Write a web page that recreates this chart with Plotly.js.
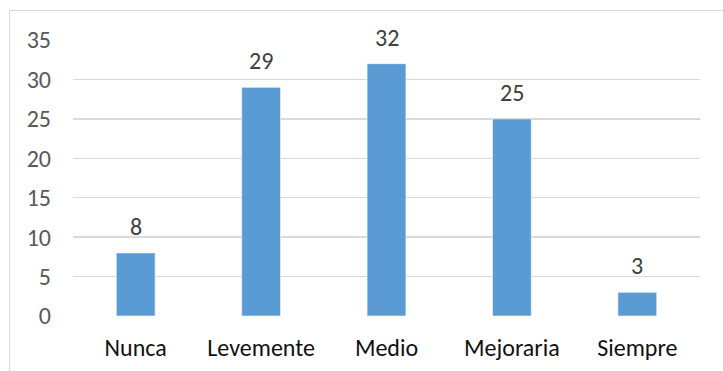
<!DOCTYPE html>
<html>
<head>
<meta charset="utf-8">
<script src="https://cdn.plot.ly/plotly-3.0.1.min.js"></script>
<style>
  html, body { margin: 0; padding: 0; background: #fff; }
  #wrap { position: relative; width: 723px; height: 371px; overflow: hidden; }
  #frame { position: absolute; left: 9px; top: 10px; width: 760px; height: 400px;
           border: 1px solid #d9d9d9; box-sizing: border-box; pointer-events: none; }
  #chart { position: absolute; left: 0; top: 0; width: 723px; height: 371px; }
</style>
</head>
<body>
<div id="wrap">
  <div id="chart"></div>
  <div id="frame"></div>
</div>
<script>
// Respuestas por categoría
const categorias = ['Nunca', 'Levemente', 'Medio', 'Mejoraria', 'Siempre'];
const valores = [8, 29, 32, 25, 3];
const yTicks = [0, 5, 10, 15, 20, 25, 30, 35];

const fuente = 'Carlito, Calibri, Lato, "Liberation Sans", Arial, sans-serif';

const trace = {
  type: 'bar',
  x: categorias,
  y: valores,
  text: valores.map(String),
  textposition: 'none',
  marker: { color: '#5B9BD5', line: { color: '#ffffff', width: 0.6 } },
  hoverinfo: 'skip'
};

// Etiquetas de valor sobre cada barra
const etiquetas = categorias.map((c, i) => ({
  x: c, y: valores[i], text: String(valores[i]),
  xref: 'x', yref: 'y', showarrow: false,
  yanchor: 'bottom', yshift: 10,
  font: { family: fuente, size: 24, color: '#404040' }
}));

const layout = {
  width: 723, height: 371,
  margin: { l: 73, r: 23, t: 40, b: 55 },
  paper_bgcolor: 'rgba(0,0,0,0)',
  plot_bgcolor: 'rgba(0,0,0,0)',
  bargap: 0.69,
  showlegend: false,
  font: { family: fuente },
  xaxis: {
    type: 'category',
    showgrid: false, zeroline: false, showline: false,
    ticks: '',
    tickfont: { family: fuente, size: 24, color: '#111111' },
    ticklabelstandoff: 15
  },
  yaxis: {
    range: [0, 35],
    tickvals: yTicks,
    ticktext: yTicks.map(String),
    showgrid: true, gridcolor: '#d9d9d9', gridwidth: 1.5,
    zeroline: false, showline: false, ticks: '',
    tickfont: { family: fuente, size: 24, color: '#595959' },
    ticklabelstandoff: 21
  },
  annotations: etiquetas
};

Plotly.newPlot('chart', [trace], layout, { displayModeBar: false, staticPlot: true });
</script>
</body>
</html>
